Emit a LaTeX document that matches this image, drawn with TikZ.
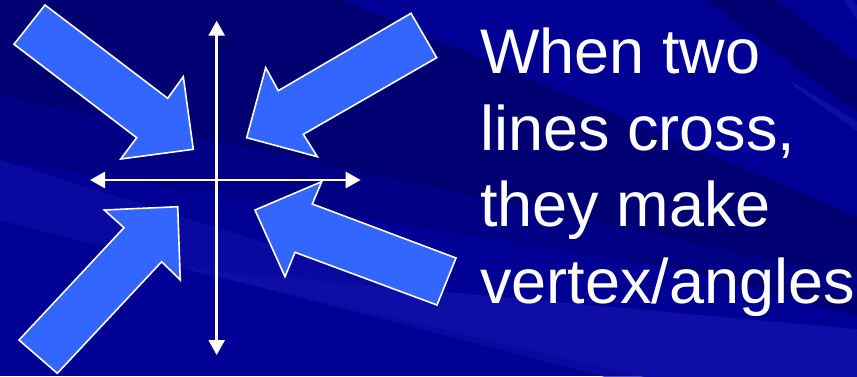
\documentclass[tikz,border=0pt]{standalone}
\usepackage{fontspec}
\setmainfont{Liberation Sans}
\usepackage{tikz}
\usetikzlibrary{arrows.meta}
\definecolor{slideblue}{RGB}{0,0,148}
\definecolor{slidedark}{RGB}{0,0,115}
\definecolor{slidelight}{RGB}{14,14,166}
\definecolor{arrowblue}{RGB}{51,102,255}

\begin{document}
\begin{tikzpicture}[x=1pt,y=-1pt,
    blockarrow/.style={fill=arrowblue,draw=white,line width=1.6pt,line join=miter},
    axisline/.style={white,line width=2.6pt,
      {Triangle[length=15pt,width=16pt]}-{Triangle[length=15pt,width=16pt]}},
    bigtext/.style={text=white,font=\fontsize{63}{77}\selectfont,inner sep=0pt,anchor=base west}]
    \useasboundingbox (0,0) rectangle (857,376);
    \clip (0,0) rectangle (857,376);
    % slide background with its streaks
    \fill[slideblue] (0,0) rectangle (857,376);
    \fill[slidedark] (0,-5) -- (330,-5) -- (867,220) -- (867,280) -- (0,95) -- cycle;
    \fill[slidedark!50!slideblue] (0,95) -- (867,280) -- (867,300) -- (0,160) -- cycle;
    \fill[slidelight,opacity=0.7] (0,160) -- (867,430) -- (867,445) -- (0,220) -- cycle;
    \fill[slidelight] (180,268) -- (867,330) -- (867,390) -- (700,390) -- cycle;
    \fill[slidedark] (600,248) -- (867,300) -- (867,318) -- cycle;
    \fill[slidedark] (700,-5) -- (770,-5) -- (867,70) -- (867,120) -- cycle;
    \fill[slidelight] (790,80) -- (867,128) -- (867,138) -- (795,87) -- cycle;
    \fill[slidelight] (840,-5) -- (850,-5) -- (867,20) -- (867,35) -- cycle;
    % four block arrows pointing at the crossing
    \draw[blockarrow] (45,5) -- (167.7,98.3) -- (183.3,76.7) -- (193.3,149.3)
      -- (120.7,159) -- (136.7,137.7) -- (14,44.3) -- cycle;
    \draw[blockarrow] (411,13.3) -- (436.7,57.7) -- (303.3,134.3) -- (317.3,156.7)
      -- (246.7,137.7) -- (265.7,67.7) -- (278.3,90.7) -- cycle;
    \draw[blockarrow] (19,340) -- (124,227.7) -- (104.3,210) -- (177.7,206.7)
      -- (180.3,280) -- (161.7,261.7) -- (57.3,373.3) -- cycle;
    \draw[blockarrow] (456,258) -- (312.3,204) -- (321.7,181.7) -- (255,210)
      -- (285,276.7) -- (295,252.3) -- (437,305) -- cycle;
    % the two crossing lines
    \coordinate (top) at (216.7,20.7);
    \coordinate (bottom) at (216.7,355);
    \coordinate (left) at (90,180);
    \coordinate (right) at (360.7,180);
    \draw[axisline] (bottom) -- (top);
    \draw[axisline] (left) -- (right);
    % text on the right
    \foreach \txt [count=\i] in {{When two},{lines cross,},{they make},{vertex/angles}}
      \node[bigtext] (line\i) at (480,{73.3+76.7*(\i-1)}) {\txt};
\end{tikzpicture}
\end{document}
